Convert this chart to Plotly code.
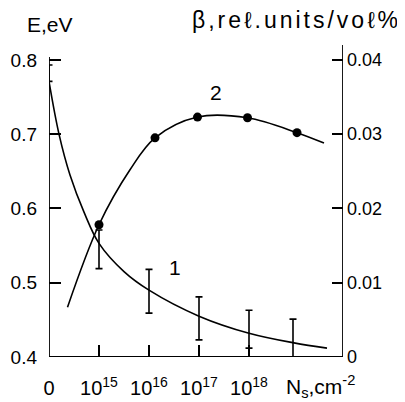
import plotly.graph_objects as go

# x positions: 0 -> "0", 1 -> 1e15, 2 -> 1e16, 3 -> 1e17, 4 -> 1e18 (log-decade positions)
x_tick_vals = [0, 1, 2, 3, 4]
x_tick_text = ["0", "10<sup>15</sup>", "10<sup>16</sup>", "10<sup>17</sup>", "10<sup>18</sup>"]
e_tick_vals = [0.4, 0.5, 0.6, 0.7, 0.8]
e_tick_text = ["0.4", "0.5", "0.6", "0.7", "0.8"]
b_tick_vals = [0, 0.01, 0.02, 0.03, 0.04]
b_tick_text = ["0", "0.01", "0.02", "0.03", "0.04"]

# curve 1: E (eV) vs log N_s position
curve1_x = [0, 0.2, 0.42, 0.7, 1.0, 1.5, 2.0, 3.0, 4.0, 4.9, 5.56]
curve1_E = [0.771, 0.700, 0.645, 0.595, 0.553, 0.515, 0.490, 0.455, 0.432, 0.419, 0.412]

# error bars for curve 1
err_x = [0, 1, 2, 3, 4, 4.88]
err_center = [0.771, 0.553, 0.490, 0.455, 0.432, 0.419]
err_low = [0.771, 0.519, 0.459, 0.423, 0.412, 0.400]
err_high = [0.793, 0.571, 0.518, 0.481, 0.463, 0.451]

# curve 2: beta (rel. units / vol%)
curve2_x = [0.37, 1.0, 1.62, 2.12, 2.97, 3.97, 4.96, 5.5]
curve2_b = [0.0067, 0.0178, 0.0252, 0.0295, 0.0323, 0.0322, 0.0302, 0.0288]
points2_x = [1.0, 2.12, 2.97, 3.97, 4.96]
points2_b = [0.0178, 0.0295, 0.0323, 0.0322, 0.0302]

FONT = "Liberation Sans, Arial, sans-serif"
X_MAX = 5.88

fig = go.Figure()
fig.add_trace(go.Scatter(x=curve1_x, y=curve1_E, mode="lines",
                         line=dict(color="black", width=1.6, shape="spline", smoothing=1.0),
                         showlegend=False, hoverinfo="skip"))
fig.add_trace(go.Scatter(
    x=err_x, y=err_center, mode="markers",
    marker=dict(size=1, color="rgba(0,0,0,0)"),
    error_y=dict(type="data", symmetric=False,
                 array=[h - c for h, c in zip(err_high, err_center)],
                 arrayminus=[c - l for c, l in zip(err_center, err_low)],
                 color="black", thickness=1.6, width=3.5),
    showlegend=False, hoverinfo="skip"))
fig.add_trace(go.Scatter(x=curve2_x, y=curve2_b, mode="lines", yaxis="y2",
                         line=dict(color="black", width=1.6, shape="spline", smoothing=1.0),
                         showlegend=False, hoverinfo="skip"))
fig.add_trace(go.Scatter(x=points2_x, y=points2_b, mode="markers", yaxis="y2",
                         marker=dict(size=9, color="black"),
                         showlegend=False, hoverinfo="skip"))

axis_common = dict(showgrid=False, zeroline=False, showline=False, ticks="inside",
                   tickcolor="black", tickwidth=1.6, automargin=False)

fig.update_layout(
    width=397, height=394,
    margin=dict(l=41, r=62, t=37, b=45, autoexpand=False),
    paper_bgcolor="white", plot_bgcolor="white",
    font=dict(family=FONT, color="black"),
    xaxis=dict(range=[0, X_MAX], tickvals=x_tick_vals, ticktext=x_tick_text,
               ticklen=12, tickfont=dict(size=20, family=FONT), ticklabelstandoff=17,
               **axis_common),
    yaxis=dict(range=[0.4, 0.82], tickvals=e_tick_vals, ticktext=e_tick_text,
               ticklen=12, tickfont=dict(size=19, family=FONT), ticklabelstandoff=11,
               **axis_common),
    yaxis2=dict(range=[0, 0.042], tickvals=b_tick_vals, ticktext=b_tick_text,
                overlaying="y", side="right", anchor="x",
                ticklen=11, tickfont=dict(size=18, family=FONT), ticklabelstandoff=3,
                **axis_common),
    shapes=[
        dict(type="line", xref="x", yref="y", x0=0, x1=0, y0=0.4, y1=0.804,
             line=dict(color="black", width=1.8)),
        dict(type="line", xref="x", yref="y", x0=0, x1=X_MAX, y0=0.4, y1=0.4,
             line=dict(color="black", width=1.8)),
        dict(type="line", xref="x", yref="y", x0=X_MAX, x1=X_MAX, y0=0.4, y1=0.82,
             line=dict(color="black", width=1.8)),
    ],
    annotations=[
        dict(text="E,eV", xref="paper", yref="paper", x=-0.08, y=1.067,
             xanchor="left", yanchor="middle",
             showarrow=False, font=dict(size=21, family=FONT)),
        dict(text='<span style="letter-spacing:3px">β,reℓ.units/voℓ%</span>',
             xref="paper", yref="paper", x=0.48, xanchor="left", y=1.08, yanchor="middle",
             showarrow=False, font=dict(size=23, family=FONT)),
        dict(text="N<sub>s</sub>,cm<sup>-2</sup>", xref="paper", yref="paper",
             x=0.80, y=-0.095, xanchor="left", yanchor="middle",
             showarrow=False, font=dict(size=21, family=FONT)),
        dict(text="1", xref="x", yref="y", x=2.52, y=0.52, showarrow=False,
             font=dict(size=21, family=FONT)),
        dict(text="2", xref="x", yref="y", x=3.34, y=0.756, showarrow=False,
             font=dict(size=21, family=FONT)),
    ],
)

fig.write_html("out.html")
